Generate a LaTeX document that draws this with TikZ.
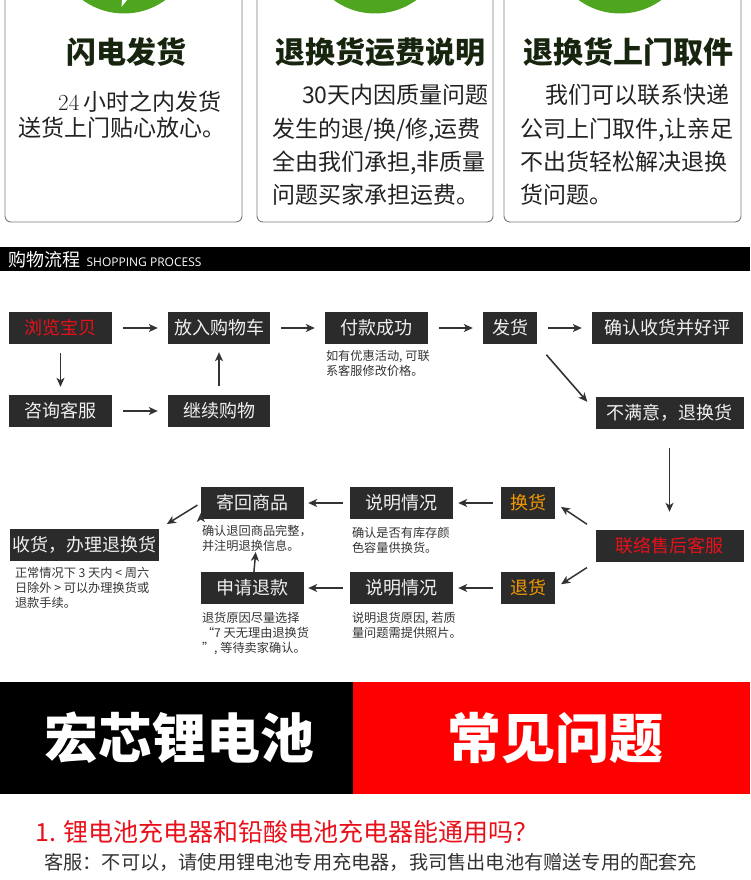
\documentclass[tikz,border=0pt]{standalone}
\usepackage{fontspec}
\usepackage{tikz}
\usetikzlibrary{positioning, arrows.meta}
\newfontfamily\cjk{Noto Sans CJK SC}
\newfontfamily\headsans{Open Sans}
\definecolor{boxgray}{HTML}{2B2B2B}
\definecolor{leaf}{HTML}{4EA51E}
\definecolor{cardline}{HTML}{7A7A7A}
\definecolor{titleink}{HTML}{17250F}
\definecolor{bodyink}{HTML}{222222}
\definecolor{noteink}{HTML}{333333}
\definecolor{alarm}{HTML}{E8101A}
\definecolor{amber}{HTML}{F39800}
\definecolor{bannerred}{HTML}{FE0000}
\tikzset{>={Stealth[length=9pt, width=8pt, inset=2.5pt]},
flowbox/.style={fill=boxgray, text=white!94!black, minimum height=32pt, inner sep=0pt, font=\cjk\fontsize{18}{18}\selectfont},
note/.style={text=noteink, inner sep=0pt, align=left, font=\cjk\fontsize{12.2}{15}\selectfont},
flow/.style={->, draw=noteink, line width=1.6pt, shorten <=11pt, shorten >=10pt},
card/.style={draw=cardline, line width=0.9pt, rounded corners=6pt},
cardtitle/.style={text=titleink, font=\cjk\bfseries\fontsize{30}{30}\selectfont},
cardtext/.style={text=bodyink, inner sep=0pt, align=left, anchor=base west},
}

\begin{document}
\begin{tikzpicture}[x=1pt, y=-1pt]
\useasboundingbox (0,0) rectangle (750,880);
\clip (0,0) rectangle (750,880);
% cards on top
\foreach \l/\r/\c in {5/242/124, 257/493/375, 504/741/620}{
  \draw[card] (\l,-12) rectangle (\r,222);
  \fill[leaf] (\c,-56.5) circle (70pt);
}
\fill[white] (122,0) -- (127,0) -- (121.5,7) -- cycle;
\node[cardtitle] (flash) at (126.5,52) {闪电发货};
\node[cardtitle] (freight) at (380.5,52) {退换货运费说明};
\node[cardtitle] (pickup) at (628,52) {退换货上门取件};
% base = last line
\node[cardtext, font=\cjk\fontsize{23}{26.6}\selectfont] (flashtext) at (18,136.7)
  {\hspace*{40pt}{\rmfamily 24}\,小时之内发货\\送货上门贴心放心。};
\node[cardtext, font=\cjk\fontsize{23}{33.3}\selectfont] (freighttext) at (272,203.7)
  {\hspace*{30pt}30天内因质量问题\\发生的退/换/修,运费\\全由我们承担,非质量\\问题买家承担运费。};
\node[cardtext, font=\cjk\fontsize{23}{33.3}\selectfont] (pickuptext) at (520,203.7)
  {\hspace*{25pt}我们可以联系快递\\公司上门取件,让亲足\\不出货轻松解决退换\\货问题。};

% title bar
\fill (0,247) rectangle (750,271);
\node[anchor=base west, inner sep=0pt, text=white, font=\cjk\fontsize{18}{18}\selectfont] (bartitle) at (8,266) {购物流程};
\node[anchor=base west, inner sep=0pt, text=white, font=\headsans\fontsize{12}{12}\selectfont] (barsub) at ([xshift=6pt]bartitle.base east) {SHOPPING PROCESS};

% shopping steps
\node[flowbox, minimum width=103pt, text=alarm] (browse) at (60.5,328) {浏览宝贝};
\node[flowbox, minimum width=102pt] (cart) at (219,328) {放入购物车};
\node[flowbox, minimum width=103pt] (consult) at (60.5,411) {咨询客服};
\node[flowbox, minimum width=102pt] (goon) at (219,411) {继续购物};
\node[flowbox, minimum width=103pt] (pay) at (376.5,328) {付款成功};
\node[flowbox, minimum width=54pt] (ship) at (510,328) {发货};
\node[flowbox, minimum width=151pt] (confirm) at (667.5,328) {确认收货并好评};
\node[flowbox, minimum width=148pt] (unhappy) at (669.5,413) {不满意，退换货};
\node[note, below right=6pt and 1pt of pay.south west] (paynote) {如有优惠活动, 可联\\系客服修改价格。};

% after-sales steps
\node[flowbox, minimum width=148pt, text=alarm] (service) at (669.5,546) {联络售后客服};
\node[flowbox, minimum width=54pt, text=amber] (swap) at (528,503) {换货};
\node[flowbox, minimum width=54pt, text=amber] (giveback) at (528,588) {退货};
\node[flowbox, minimum width=103pt] (swapinfo) at (401.5,503) {说明情况};
\node[flowbox, minimum width=103pt] (backinfo) at (401.5,588) {说明情况};
\node[flowbox, minimum width=103pt] (sendback) at (252.5,503) {寄回商品};
\node[flowbox, minimum width=103pt] (refund) at (252.5,588) {申请退款};
\node[flowbox, minimum width=149pt] (receive) at (84.5,545) {收货，办理退换货};
\node[note, below right=7.5pt and 2pt of swapinfo.south west] (swapnote) {确认是否有库存颜\\色容量供换货。};
\node[note, below right=7.5pt and 2pt of backinfo.south west] (backnote) {说明退货原因, 若质\\量问题需提供照片。};
\node[note, below right=6pt and 1pt of sendback.south west] (sendnote) {确认退回商品完整，\\并注明退换信息。};
\node[note, below right=7.5pt and 1pt of refund.south west] (refundnote) {退货原因尽量选择\\“7 天无理由退换货\\”, 等待卖家确认。};
\node[note, below right=6pt and 5pt of receive.south west] (receivenote) {正常情况下 3 天内 < 周六\\日除外 > 可以办理换货或\\退款手续。};

\draw[flow]
(browse) edge (cart)
(cart) edge (pay)
(pay) edge (ship)
(ship) edge (confirm)
(browse) edge[shorten <=9pt, shorten >=8pt] (consult)
(consult) edge (goon)
(goon) edge[shorten <=9pt, shorten >=8pt] (cart)
(unhappy) edge[shorten <=19pt, shorten >=18pt] (service)
;
\draw[flow, shorten <=14pt, shorten >=0pt] (ship.south east) -- ([xshift=-8pt, yshift=-5pt]unhappy.north west);
\draw[flow, line width=1.5pt]
(service.north west) edge[shorten <=10pt, shorten >=7pt] (swap.east)
(service.south west) edge[shorten <=10pt, shorten >=7pt] (giveback.east)
(swap) edge[shorten <=8pt, shorten >=5pt] (swapinfo)
(giveback) edge[shorten <=8pt, shorten >=5pt] (backinfo)
(swapinfo) edge[shorten <=7pt, shorten >=4pt] (sendback)
(backinfo) edge[shorten <=7pt, shorten >=4pt] (refund)
(refund) edge[shorten <=0pt, shorten >=0pt] (sendnote)
(sendback.west) edge[shorten <=4pt, shorten >=9pt] (receive.north east)
;

% banner
\fill (0,682) rectangle (353,794);
\fill[bannerred] (353,682) rectangle (750,794);
\node[text=white, font=\cjk\bfseries\fontsize{54}{54}\selectfont] (brand) at (179,738) {宏芯锂电池};
\node[text=white, font=\cjk\bfseries\fontsize{54}{54}\selectfont] (faq) at (555,738) {常见问题};
\node[anchor=west, inner sep=0pt, text=alarm, font=\cjk\fontsize{25}{25}\selectfont] (question) at (35,832) {1. 锂电池充电器和铅酸电池充电器能通用吗？};
\node[anchor=west, inner sep=0pt, text=noteink, font=\cjk\fontsize{19.2}{19.2}\selectfont] (answer) at (44,862) {客服：不可以，请使用锂电池专用充电器，我司售出电池有赠送专用的配套充};
\end{tikzpicture}
\end{document}
